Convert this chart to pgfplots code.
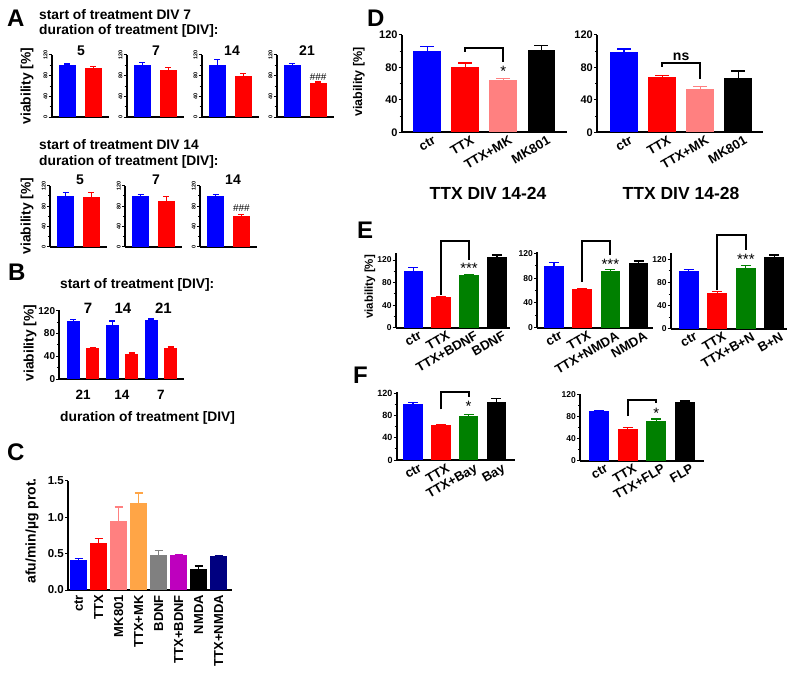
\documentclass[border=0pt]{standalone}
\usepackage{fontspec}
\setmainfont{Liberation Sans}
\usepackage{pgfplots}
\pgfplotsset{compat=1.18}
\definecolor{cblue}{RGB}{0,0,255}
\definecolor{cred}{RGB}{255,0,0}
\definecolor{cpink}{RGB}{255,128,128}
\definecolor{cgreen}{RGB}{0,128,0}
\definecolor{corange}{RGB}{255,165,70}
\definecolor{cgrey}{RGB}{128,128,128}
\definecolor{cmag}{RGB}{190,0,190}
\definecolor{cnavy}{RGB}{0,0,128}
\newcommand\fs[1]{\fontsize{#1}{#1}\selectfont}
\newcommand\capsz{4pt}
\newcommand\gbar[4]{\addplot[ybar, bar shift=0pt, fill=#1, draw=none,
  error bars/.cd, y dir=plus, y explicit, error mark=|,
  error bar style={draw=#1, line width=1.2pt},
  error mark options={draw=#1, line width=1.2pt, mark size=\capsz}]
  coordinates {(#2,#3) +- (0,#4)};}
\pgfplotsset{
  gp/.style={scale only axis, anchor=south west,
    axis x line*=bottom, axis y line*=left,
    axis line style={line width=1.7pt,-},
    tick style={black, line width=1pt},
    tick align=outside, major tick length=3pt, minor tick length=2pt,
    xtick style={draw=none},
    ymin=0, clip=false, ytick={0,40,80,120}, minor y tick num=1,
    /pgf/number format/assume math mode=true,
    yticklabel style={font=\bfseries\fs{9}, inner sep=1pt}},
  xl/.style={xtick={0,1,2,3}, xticklabels={#1},
    xticklabel style={font=\bfseries\fs{13}, rotate=30, anchor=north east, inner sep=0.5pt, xshift=5pt, yshift=-2pt}},
  aA/.style={xmin=-0.6, xmax=1.6, ymax=120, bar width=0.66, xtick=\empty,
    width=57pt, yticklabel style={font=\bfseries\fs{5.5}, rotate=90, anchor=south}},
}
\begin{document}
\begin{tikzpicture}
\useasboundingbox (0pt,0pt) rectangle (800pt,-677pt);
\tikzset{lab/.style={inner sep=0pt, font=\bfseries\fs{13.8}}, brk/.style={line width=2pt}}
% ---------------- Panel A ----------------
\node[anchor=base west, inner sep=0, font=\bfseries\fs{24}] at (7pt,-27pt) {A};
\node[lab, anchor=base west] at (39pt,-20pt) {start of treatment DIV 7};
\node[lab, anchor=base west] at (39pt,-35pt) {duration of treatment [DIV]:};
\node[lab, rotate=90] at (27pt,-86pt) {viability [\%]};
\node[lab, anchor=base, font=\bfseries\fs{14}] at (81pt,-55.5pt) {5};
\node[lab, anchor=base, font=\bfseries\fs{14}] at (156pt,-55.5pt) {7};
\node[lab, anchor=base, font=\bfseries\fs{14}] at (232pt,-55.5pt) {14};
\node[lab, anchor=base, font=\bfseries\fs{14}] at (307pt,-55.5pt) {21};
\renewcommand\capsz{3pt}
\begin{axis}[gp, aA, at={(51.7pt,-117.3pt)}, height=62.3pt]
\gbar{cblue}{0}{100}{2.5}
\gbar{cred}{1}{95}{2.5}
\end{axis}
\begin{axis}[gp, aA, at={(126.7pt,-117.3pt)}, height=62.3pt]
\gbar{cblue}{0}{100}{6}
\gbar{cred}{1}{92}{3.5}
\end{axis}
\begin{axis}[gp, aA, at={(201.7pt,-117.3pt)}, height=62.3pt]
\gbar{cblue}{0}{100}{12}
\gbar{cred}{1}{80}{5}
\end{axis}
\begin{axis}[gp, aA, at={(276.7pt,-117.3pt)}, height=62.3pt]
\gbar{cblue}{0}{100}{4}
\gbar{cred}{1}{66}{2}
\node[font=\fs{10}, anchor=south, inner sep=1pt] at (axis cs:1,69) {\#\#\#};
\end{axis}
\node[lab, anchor=base west] at (39pt,-149pt) {start of treatment DIV 14};
\node[lab, anchor=base west] at (39pt,-165pt) {duration of treatment [DIV]:};
\node[lab, rotate=90] at (27pt,-216pt) {viability [\%]};
\node[lab, anchor=base, font=\bfseries\fs{14}] at (80pt,-184pt) {5};
\node[lab, anchor=base, font=\bfseries\fs{14}] at (156pt,-184pt) {7};
\node[lab, anchor=base, font=\bfseries\fs{14}] at (233pt,-184pt) {14};
\begin{axis}[gp, aA, at={(50pt,-246.7pt)}, height=61pt]
\gbar{cblue}{0}{100}{7}
\gbar{cred}{1}{97}{10}
\end{axis}
\begin{axis}[gp, aA, at={(125pt,-246.7pt)}, height=61pt]
\gbar{cblue}{0}{100}{3}
\gbar{cred}{1}{89}{9}
\end{axis}
\begin{axis}[gp, aA, at={(200pt,-246.7pt)}, height=61pt]
\gbar{cblue}{0}{100}{3}
\gbar{cred}{1}{60}{4}
\node[font=\fs{10}, anchor=south, inner sep=1pt] at (axis cs:1,66) {\#\#\#};
\end{axis}
% ---------------- Panel B ----------------
\node[anchor=base west, inner sep=0, font=\bfseries\fs{24}] at (8pt,-280pt) {B};
\node[lab, anchor=base west] at (60pt,-288pt) {start of treatment [DIV]:};
\node[lab, anchor=base, font=\bfseries\fs{15}] at (88pt,-313pt) {7};
\node[lab, anchor=base, font=\bfseries\fs{15}] at (123pt,-313pt) {14};
\node[lab, anchor=base, font=\bfseries\fs{15}] at (163.5pt,-313pt) {21};
\node[lab, rotate=90] at (30pt,-343pt) {viability [\%]};
\node[lab, anchor=base west] at (60pt,-421.7pt) {duration of treatment [DIV]};
\renewcommand\capsz{3pt}
\begin{axis}[gp, at={(59.3pt,-379.3pt)}, width=124.7pt, height=69.8pt,
  xmin=-0.72, xmax=5.69, ymax=122, bar width=0.67,
  yticklabel style={font=\bfseries\fs{10}},
  xtick={0.5,2.5,4.5}, xticklabels={21,14,7},
  xticklabel style={font=\bfseries\fs{13.5}, anchor=north, yshift=-4pt}]
\gbar{cblue}{0}{102}{3}
\gbar{cred}{1}{55}{1}
\gbar{cblue}{2}{95}{7}
\gbar{cred}{3}{45}{1}
\gbar{cblue}{4}{104}{1.5}
\gbar{cred}{5}{54}{2.5}
\end{axis}
% ---------------- Panel C ----------------
\node[anchor=base west, inner sep=0, font=\bfseries\fs{24}] at (7pt,-460pt) {C};
\node[lab, rotate=90, font=\bfseries\fs{14}] at (32pt,-531pt) {afu/min/µg prot.};
\renewcommand\capsz{4pt}
\begin{axis}[gp, at={(68pt,-590pt)}, width=163.7pt, height=109.3pt,
  xmin=-0.53, xmax=7.65, ymax=1.5, bar width=0.85,
  ytick={0,0.5,1,1.5}, yticklabels={0.0,0.5,1.0,1.5}, minor y tick num=0,
  yticklabel style={font=\bfseries\fs{11.5}},
  xtick={0,...,7}, xticklabels={ctr,TTX,MK801,TTX+MK,BDNF,TTX+BDNF,NMDA,TTX+NMDA},
  xticklabel style={font=\bfseries\fs{13}, rotate=90, anchor=east, inner sep=2pt}]
\gbar{cblue}{0}{0.41}{0.025}
\gbar{cred}{1}{0.65}{0.06}
\gbar{cpink}{2}{0.95}{0.19}
\gbar{corange}{3}{1.2}{0.13}
\gbar{cgrey}{4}{0.48}{0.065}
\gbar{cmag}{5}{0.48}{0.006}
\gbar{black}{6}{0.295}{0.035}
\gbar{cnavy}{7}{0.465}{0.01}
\end{axis}
% ---------------- Panel D ----------------
\node[anchor=base west, inner sep=0, font=\bfseries\fs{24}] at (367pt,-27pt) {D};
\node[lab, rotate=90, font=\bfseries\fs{12.5}] at (359pt,-82pt) {viability [\%]};
\node[lab, font=\bfseries\fs{17.5}] at (488pt,-193pt) {TTX DIV 14-24};
\node[lab, font=\bfseries\fs{17.5}] at (681pt,-193pt) {TTX DIV 14-28};
\renewcommand\capsz{7pt}
\begin{axis}[gp, xl={ctr,TTX,TTX+MK,MK801}, at={(401.7pt,-132.3pt)}, width=165.3pt, height=97.3pt,
  xmin=-0.67, xmax=3.67, ymax=120, bar width=0.73,
  yticklabel style={font=\bfseries\fs{11}}]
\gbar{cblue}{0}{100}{6}
\gbar{cred}{1}{81}{4.5}
\gbar{cpink}{2}{64.5}{1.5}
\gbar{black}{3}{101.5}{6}
\draw[brk] (axis cs:1,99.4) |- (axis cs:2,104.3) -- (axis cs:2,86.7);
\node[font=\fs{15}] at (axis cs:2,75) {*};
\end{axis}
\begin{axis}[gp, xl={ctr,TTX,TTX+MK,MK801}, at={(597pt,-132.3pt)}, width=166pt, height=97.3pt,
  xmin=-0.71, xmax=3.65, ymax=120, bar width=0.73,
  yticklabel style={font=\bfseries\fs{11}}]
\gbar{cblue}{0}{99.5}{3.3}
\gbar{cred}{1}{68.5}{2}
\gbar{cpink}{2}{53}{3}
\gbar{black}{3}{66.5}{9}
\draw[brk] (axis cs:1,80.9) |- (axis cs:2,85.8) -- (axis cs:2,65.7);
\node[font=\bfseries\fs{14}, anchor=base] at (axis cs:1.5,88) {ns};
\end{axis}
% ---------------- Panel E ----------------
\node[anchor=base west, inner sep=0, font=\bfseries\fs{24}] at (357pt,-238pt) {E};
\node[lab, rotate=90, font=\bfseries\fs{11.5}] at (370pt,-287pt) {viability [\%]};
\renewcommand\capsz{5pt}
\begin{axis}[gp, xl={ctr,TTX,TTX+BDNF,BDNF}, at={(395.7pt,-327.7pt)}, width=114.3pt, height=74.4pt,
  xmin=-0.63, xmax=3.47, ymax=132, bar width=0.7,
  yticklabel style={font=\bfseries\fs{8.5}}]
\gbar{cblue}{0}{100}{7}
\gbar{cred}{1}{54}{1.5}
\gbar{cgreen}{2}{93}{1.5}
\gbar{black}{3}{125}{4}
\draw[brk] (axis cs:1,58) |- (axis cs:2,153.7) -- (axis cs:2,121);
\node[font=\fs{15}] at (axis cs:2,105) {***};
\end{axis}
\begin{axis}[gp, xl={ctr,TTX,TTX+NMDA,NMDA}, at={(537pt,-327.7pt)}, width=116pt, height=75.6pt,
  xmin=-0.6, xmax=3.51, ymax=122, bar width=0.7,
  yticklabel style={font=\bfseries\fs{8.5}}]
\gbar{cblue}{0}{99.5}{6}
\gbar{cred}{1}{62}{1.5}
\gbar{cgreen}{2}{92}{2.2}
\gbar{black}{3}{105}{2.8}
\draw[brk] (axis cs:1,74) |- (axis cs:2,140) -- (axis cs:2,117);
\node[font=\fs{15}] at (axis cs:2,103) {***};
\end{axis}
\begin{axis}[gp, xl={ctr,TTX,TTX+B+N,B+N}, at={(670.7pt,-328.7pt)}, width=116pt, height=75.7pt,
  xmin=-0.63, xmax=3.43, ymax=131, bar width=0.7,
  yticklabel style={font=\bfseries\fs{8.5}}]
\gbar{cblue}{0}{100}{3}
\gbar{cred}{1}{61}{3}
\gbar{cgreen}{2}{105.5}{4.5}
\gbar{black}{3}{124.5}{3}
\draw[brk] (axis cs:1,67) |- (axis cs:2,163) -- (axis cs:2,136);
\node[font=\fs{15}] at (axis cs:2,120) {***};
\end{axis}
% ---------------- Panel F ----------------
\node[anchor=base west, inner sep=0, font=\bfseries\fs{24}] at (353pt,-383pt) {F};
\begin{axis}[gp, xl={ctr,TTX,TTX+Bay,Bay}, at={(396.7pt,-460pt)}, width=118.3pt, height=67.8pt,
  xmin=-0.59, xmax=3.67, ymax=122, bar width=0.7,
  yticklabel style={font=\bfseries\fs{9}}]
\gbar{cblue}{0}{100}{3.6}
\gbar{cred}{1}{63}{1}
\gbar{cgreen}{2}{80}{1.3}
\gbar{black}{3}{105}{6}
\draw[brk] (axis cs:1,91) |- (axis cs:2,123) -- (axis cs:2,114);
\node[font=\fs{15}] at (axis cs:2,96) {*};
\end{axis}
\begin{axis}[gp, xl={ctr,TTX,TTX+FLP,FLP}, at={(580pt,-460.7pt)}, width=124pt, height=67.1pt,
  xmin=-0.68, xmax=3.67, ymax=122, bar width=0.7,
  yticklabel style={font=\bfseries\fs{8.5}}]
\gbar{cblue}{0}{91}{0.8}
\gbar{cred}{1}{57}{3.5}
\gbar{cgreen}{2}{73}{3}
\gbar{black}{3}{107}{1.5}
\draw[brk] (axis cs:1,81) |- (axis cs:2,111) -- (axis cs:2,105);
\node[font=\fs{15}] at (axis cs:2,86) {*};
\end{axis}
\end{tikzpicture}
\end{document}
